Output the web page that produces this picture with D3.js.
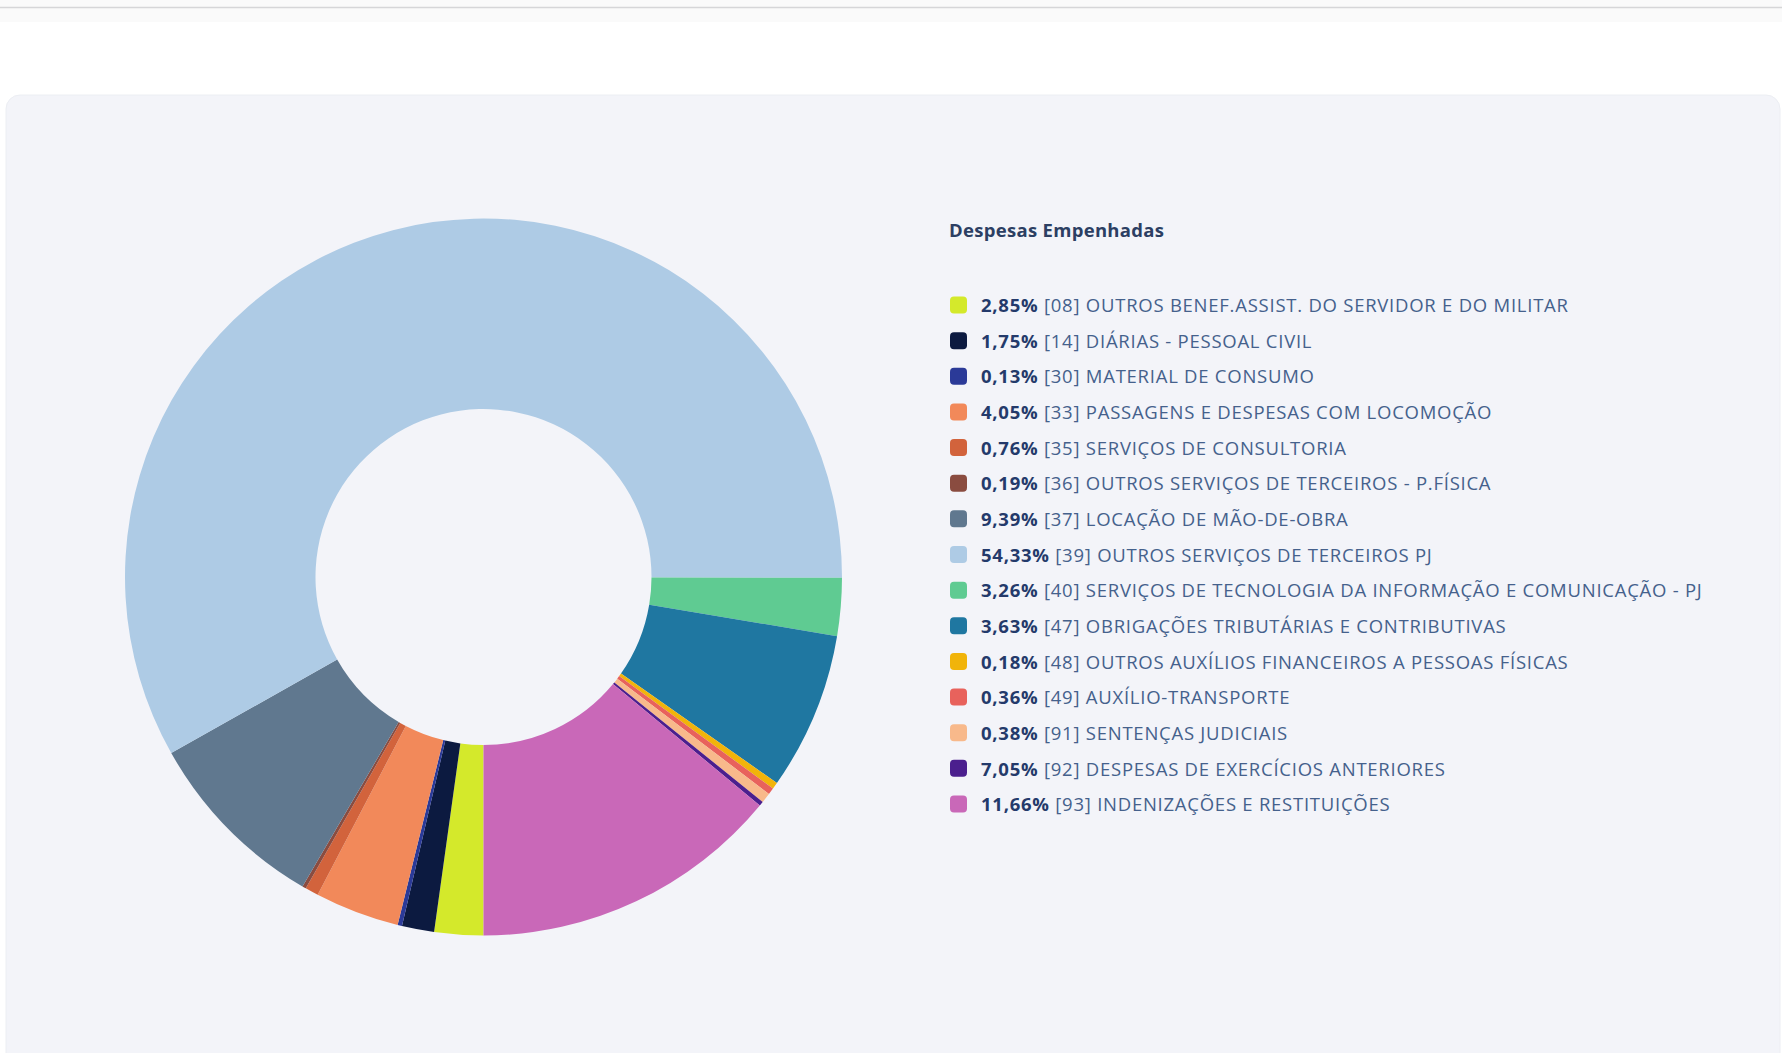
<!DOCTYPE html>
<html>
<head>
<meta charset="utf-8">
<script src="https://cdn.jsdelivr.net/npm/d3@7"></script>
<style>
  html, body { margin: 0; padding: 0; background: #ffffff; }
  svg { display: block; }
</style>
</head>
<body>
<div id="chart"></div>
<script>
// legend order = drawing order (clockwise from 6 o'clock)
const codes = ['08', '14', '30', '33', '35', '36', '37', '39', '40', '47', '48', '49', '91', '92', '93'];
const names = [
  'OUTROS BENEF.ASSIST. DO SERVIDOR E DO MILITAR',
  'DIÁRIAS - PESSOAL CIVIL',
  'MATERIAL DE CONSUMO',
  'PASSAGENS E DESPESAS COM LOCOMOÇÃO',
  'SERVIÇOS DE CONSULTORIA',
  'OUTROS SERVIÇOS DE TERCEIROS - P.FÍSICA',
  'LOCAÇÃO DE MÃO-DE-OBRA',
  'OUTROS SERVIÇOS DE TERCEIROS PJ',
  'SERVIÇOS DE TECNOLOGIA DA INFORMAÇÃO E COMUNICAÇÃO - PJ',
  'OBRIGAÇÕES TRIBUTÁRIAS E CONTRIBUTIVAS',
  'OUTROS AUXÍLIOS FINANCEIROS A PESSOAS FÍSICAS',
  'AUXÍLIO-TRANSPORTE',
  'SENTENÇAS JUDICIAIS',
  'DESPESAS DE EXERCÍCIOS ANTERIORES',
  'INDENIZAÇÕES E RESTITUIÇÕES'
];
// percentages printed in the legend
const legendPct = [2.85, 1.75, 0.13, 4.05, 0.76, 0.19, 9.39, 54.33, 3.26, 3.63, 0.18, 0.36, 0.38, 7.05, 11.66];
// slice shares as drawn in the donut
const sliceShare = [2.2, 1.45, 0.2, 3.8, 0.6, 0.17, 8.4, 58.18, 2.6, 7.1, 0.3, 0.3, 0.45, 0.2, 14.0];
const colors = [
  '#d4e92b', '#0c1a40', '#2b3a98', '#f2895a', '#d2633c', '#8a4c40', '#60788f',
  '#aecbe5', '#5fcb92', '#1f77a1', '#f1b40a', '#e8625c', '#f8b98b', '#4b1f8e', '#c968b8'
];
const legendTitle = 'Despesas Empenhadas';

const W = 1782, H = 1053;
const svg = d3.select('#chart').append('svg').attr('width', W).attr('height', H);

// page chrome
svg.append('rect').attr('x', 0).attr('y', 0).attr('width', W).attr('height', 22).style('fill', '#fafafa');
svg.append('rect').attr('x', 0).attr('y', 22).attr('width', W).attr('height', 80).style('fill', '#ffffff');
svg.append('line').attr('x1', 0).attr('x2', W).attr('y1', 7.5).attr('y2', 7.5)
  .style('stroke', '#d6d6d8').style('stroke-width', 1.5);
svg.append('rect')
  .attr('x', 6).attr('y', 95).attr('width', W - 8).attr('height', H - 95 + 20)
  .attr('rx', 14)
  .style('fill', '#f3f4f9')
  .style('stroke', '#eceef3').style('stroke-width', 1);

// donut
const cx = 483.5, cy = 577, outerR = 358.5, innerR = 168;
const pie = d3.pie().sort(null).value((d) => d.share).startAngle(Math.PI).endAngle(3 * Math.PI);
const arc = d3.arc().innerRadius(innerR).outerRadius(outerR);

const data = codes.map((c, i) => ({ code: c, name: names[i], pct: legendPct[i], share: sliceShare[i], color: colors[i] }));

const g = svg.append('g').attr('transform', `translate(${cx},${cy})`);
g.selectAll('.slice')
  .data(pie(data))
  .enter()
  .append('path')
  .attr('class', 'slice')
  .attr('d', arc)
  .style('fill', (d) => d.data.color);

// legend
const fmt = (v) => d3.format('.2f')(v).replace('.', ',') + '%';
const legend = svg.append('g').attr('transform', 'translate(949,0)');
const rowY = d3.scalePoint().domain(codes).range([305.5, 804.5]);

legend.append('text')
  .attr('x', 0)
  .attr('y', 231)
  .attr('dy', '0.35em')
  .style('font-family', '"Open Sans", sans-serif')
  .style('font-weight', 700)
  .style('font-size', '18.5px')
  .style('letter-spacing', '0.3px')
  .style('fill', '#2c3f63')
  .text(legendTitle);

const rows = legend.selectAll('.row')
  .data(data)
  .enter()
  .append('g')
  .attr('class', 'row')
  .attr('transform', (d) => `translate(0,${rowY(d.code)})`);

rows.append('rect')
  .attr('x', 1).attr('y', -9).attr('width', 17).attr('height', 17).attr('rx', 4)
  .style('fill', (d) => d.color);

const label = rows.append('text')
  .attr('x', 32)
  .attr('y', 0)
  .attr('dy', '0.36em')
  .style('font-family', '"Open Sans", sans-serif')
  .style('font-size', '18.5px')
  .style('letter-spacing', '0.75px');

label.append('tspan')
  .style('font-weight', 700)
  .style('fill', '#243a6b')
  .text((d) => fmt(d.pct));

label.append('tspan')
  .style('fill', '#45618c')
  .text((d) => ` [${d.code}] ${d.name}`);
</script>
</body>
</html>
